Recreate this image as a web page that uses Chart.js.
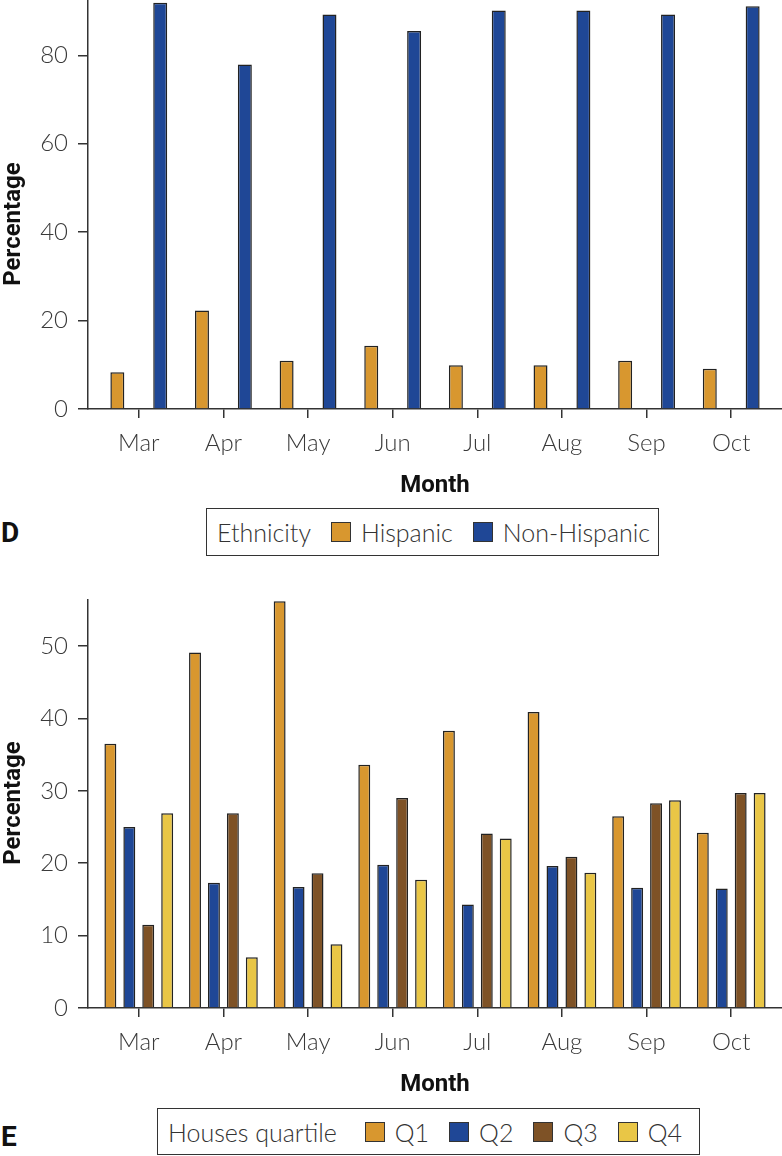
<!DOCTYPE html>
<html>
<head>
<meta charset="utf-8">
<script src="https://cdn.jsdelivr.net/npm/chart.js@4.4.1/dist/chart.umd.min.js"></script>
<style>
  body { margin: 0; background: #fff; width: 782px; height: 1156px; position: relative; overflow: hidden; }
  .panel { position: absolute; left: 0; width: 782px; height: 500px; }
  .letter { position: absolute; left: 1px; font: bold 28px Roboto, sans-serif; line-height: 28px; color: #111; }
  .legend { position: absolute; border: 1.5px solid #333; display: flex; align-items: center; box-sizing: border-box;
            padding-left: 10px; font: 300 25px 'Lato Light', Lato, sans-serif; color: #333; white-space: nowrap; }
  .legend .sw { width: 20px; height: 20px; border: 1.5px solid #333; box-sizing: border-box; margin: 0 10px 0 20px; }
</style>
</head>
<body>
<div class="panel" style="top:0"><canvas id="chartD" width="782" height="500"></canvas></div>
<div class="letter" style="top:519px">D</div>
<div class="legend" id="legendD" style="left:206px; top:508px; width:453px; height:48px"></div>

<div class="panel" style="top:599px"><canvas id="chartE" width="782" height="500"></canvas></div>
<div class="letter" style="top:1123px">E</div>
<div class="legend" id="legendE" style="left:157px; top:1108px; width:543px; height:47px"></div>

<script>
const months = ["Mar", "Apr", "May", "Jun", "Jul", "Aug", "Sep", "Oct"];

const hispanic = [8.3, 22.3, 10.9, 14.3, 9.9, 9.9, 10.9, 9.1];
const nonHispanic = [91.9, 77.9, 89.2, 85.5, 90.1, 90.1, 89.2, 91.1];
const ethnicityTicks = [0, 20, 40, 60, 80];

const q1 = [36.5, 49.1, 56.2, 33.6, 38.3, 40.9, 26.5, 24.2];
const q2 = [25.0, 17.3, 16.7, 19.8, 14.3, 19.6, 16.6, 16.5];
const q3 = [11.5, 26.9, 18.6, 29.0, 24.1, 20.9, 28.3, 29.7];
const q4 = [26.9, 7.0, 8.8, 17.7, 23.4, 18.7, 28.7, 29.7];
const quartileTicks = [0, 10, 20, 30, 40, 50];

const orange = "#D8972F";
const blue = "#1F4796";
const brown = "#7E5226";
const yellow = "#E9C646";
const ink = "#333";
const tickFont = { family: "'Lato Light', Lato", weight: 300, size: 24 };

// rotated y title drawn by hand so it can sit where the reference has it
const yTitlePlugin = {
  id: "yTitle",
  afterDraw(chart, args, opts) {
    const ctx = chart.ctx;
    ctx.save();
    ctx.translate(opts.x, opts.y);
    ctx.rotate(-Math.PI / 2);
    ctx.font = "bold 24px Roboto";
    ctx.fillStyle = "#111";
    ctx.textAlign = "center";
    ctx.textBaseline = "middle";
    ctx.fillText(opts.text, 0, 0);
    ctx.restore();
  }
};

function dataset(label, data, color) {
  return { label: label, data: data, backgroundColor: color, borderColor: "#222", borderWidth: 1.5 };
}

function makeChart(id, datasets, yMax, yTicks, catPct, barPct, titleY) {
  const ctx = document.getElementById(id).getContext("2d");
  return new Chart(ctx, {
    type: "bar",
    data: { labels: months, datasets: datasets },
    plugins: [yTitlePlugin],
    options: {
      responsive: false,
      animation: false,
      categoryPercentage: catPct,
      barPercentage: barPct,
      layout: { padding: { left: 0, right: -2, top: 0, bottom: 0 } },
      plugins: {
        legend: { display: false },
        tooltip: { enabled: false },
        yTitle: { text: "Percentage", x: 14, y: titleY }
      },
      scales: {
        x: {
          offset: false,
          grid: { offset: false, drawOnChartArea: false, drawTicks: true, tickLength: 9, color: ink, lineWidth: 1.5 },
          border: { color: ink, width: 1.5 },
          ticks: { color: "#3a3a3a", font: tickFont, padding: 11, maxRotation: 0, autoSkip: false },
          title: { display: true, text: "Month", color: "#111", font: { family: "Roboto", weight: "bold", size: 24 }, padding: { top: 0, bottom: 0 } },
          // ggplot-style 0.6 category expansion on both sides
          afterBuildTicks: s => { s._startValue = -0.6; s._valueRange = 8.2; },
          afterFit: s => { s.height = 91; s.paddingLeft = 0; s.paddingRight = 0; }
        },
        y: {
          min: 0,
          max: yMax,
          grid: { drawOnChartArea: false, drawTicks: true, tickLength: 10, color: ink, lineWidth: 1.5 },
          border: { color: ink, width: 1.5 },
          ticks: { color: "#3a3a3a", font: tickFont, padding: 10 },
          afterBuildTicks: s => { s.ticks = yTicks.map(v => ({ value: v })); },
          afterFit: s => { s.width = 88; s.paddingTop = 0; s.paddingBottom = 0; }
        }
      }
    }
  });
}

function makeLegend(chart, boxId, title, titleGap) {
  const box = document.getElementById(boxId);
  const head = document.createElement("span");
  head.textContent = title;
  head.style.marginRight = titleGap + "px";
  box.appendChild(head);
  for (let ds of chart.data.datasets) {
    const sw = document.createElement("span");
    sw.className = "sw";
    sw.style.backgroundColor = ds.backgroundColor;
    const txt = document.createElement("span");
    txt.textContent = ds.label;
    box.appendChild(sw);
    box.appendChild(txt);
  }
}

const chartD = makeChart("chartD", [
  dataset("Hispanic", hispanic, orange),
  dataset("Non-Hispanic", nonHispanic, blue)
], 92.5, ethnicityTicks, 1.013, 0.326, 224);

const chartE = makeChart("chartE", [
  dataset("Q1", q1, orange),
  dataset("Q2", q2, blue),
  dataset("Q3", q3, brown),
  dataset("Q4", q4, yellow)
], 56.5, quartileTicks, 0.895, 0.63, 204);

makeLegend(chartD, "legendD", "Ethnicity", 0);
makeLegend(chartE, "legendE", "Houses quartile", 8);
</script>
</body>
</html>
